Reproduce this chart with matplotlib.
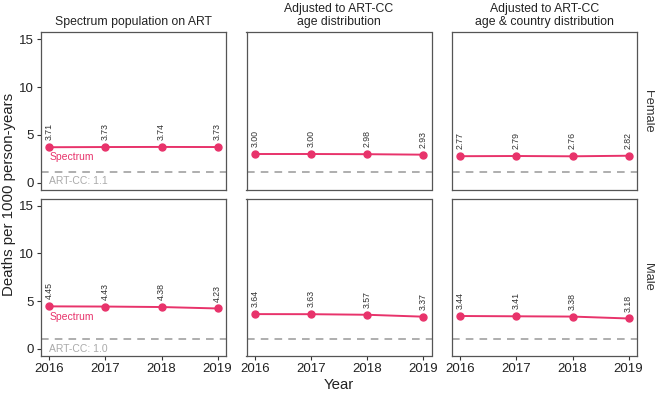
"""Deaths per 1000 person-years, Spectrum vs ART-CC adjusted"""

import matplotlib
matplotlib.use("Agg")
from matplotlib import pyplot as plt

plt.rcParams['font.family'] = ['Liberation Sans', 'DejaVu Sans']

years = [2016, 2017, 2018, 2019]
panel_titles = [
    "Spectrum population on ART",
    "Adjusted to ART-CC\nage distribution",
    "Adjusted to ART-CC\nage & country distribution",
]
sexes = ["Female", "Male"]

# rows: sex, columns: panel
female_rates = [
    [3.71, 3.73, 3.74, 3.73],
    [3.00, 3.00, 2.98, 2.93],
    [2.77, 2.79, 2.76, 2.82],
]
male_rates = [
    [4.45, 4.43, 4.38, 4.23],
    [3.64, 3.63, 3.57, 3.37],
    [3.44, 3.41, 3.38, 3.18],
]
artcc_rate = [1.1, 1.0]

line_color = '#E8336B'
grey = '#999999'

fig = plt.figure(figsize=(6.55, 3.93), dpi=100)

# Panel geometry in figure pixels
W, H = 655, 393
left0, width, gap = 41, 185, 20.5
tops = [32.3, 198.5]
height = 157.5

for r, (sex, rates) in enumerate(zip(sexes, [female_rates, male_rates])):
    for c in range(3):
        x0 = left0 + c * (width + gap)
        y0 = H - tops[r] - height
        ax = fig.add_axes([x0 / W, y0 / H, width / W, height / H])
        vals = rates[c]

        # Reference line
        ax.axhline(artcc_rate[r], color=grey, lw=1.1, ls=(0, (5, 4)))

        # Spectrum line
        ax.plot(years, vals, color=line_color, lw=1.4, marker='o',
                ms=5, zorder=3)
        for yr, v in zip(years, vals):
            ax.annotate(f"{v:.2f}", (yr, v), xytext=(0, 5),
                        textcoords='offset points', rotation=90,
                        ha='center', va='bottom', fontsize=6.3,
                        color='#333333')

        if c == 0:
            ax.text(2016, vals[0] - 0.55, "Spectrum", color=line_color,
                    fontsize=7.5, ha='left', va='top')
            ax.text(2016, artcc_rate[r] - 0.45,
                    f"ART-CC: {artcc_rate[r]:.1f}", color='#aaaaaa',
                    fontsize=7.5, ha='left', va='top')

        ax.set_xlim(2015.85, 2019.15)
        ax.set_ylim(-0.75, 15.75)
        ax.set_yticks([0, 5, 10, 15])
        ax.set_xticks(years)

        for s in ax.spines.values():
            s.set_color('#555555')
            s.set_linewidth(0.9)

        ax.tick_params(axis='both', length=3, color='#333333',
                       labelsize=9.5, labelcolor='#222222', pad=2)

        if c != 0:
            ax.tick_params(axis='y', left=False, labelleft=False)
        if r == 0:
            ax.tick_params(axis='x', bottom=False, labelbottom=False)
            ax.set_title(panel_titles[c], fontsize=8.8, color='#222222',
                         pad=5, linespacing=1.1)
        if c == 2:
            ax.text(1.025, 0.5, sex, transform=ax.transAxes,
                    rotation=-90, ha='left', va='center', fontsize=9.3,
                    color='#333333')

# Shared axis labels
mid_y = H - (tops[0] + tops[1] + height) / 2
fig.text(9 / W, mid_y / H, "Deaths per 1000 person-years", rotation=90,
         ha='center', va='center', fontsize=10.8, color='#222222')
mid_x = left0 + (3 * width + 2 * gap) / 2
fig.text(mid_x / W, 8 / H, "Year", ha='center', va='center',
         fontsize=10.8, color='#222222')

fig.savefig("out.png", dpi=100)
